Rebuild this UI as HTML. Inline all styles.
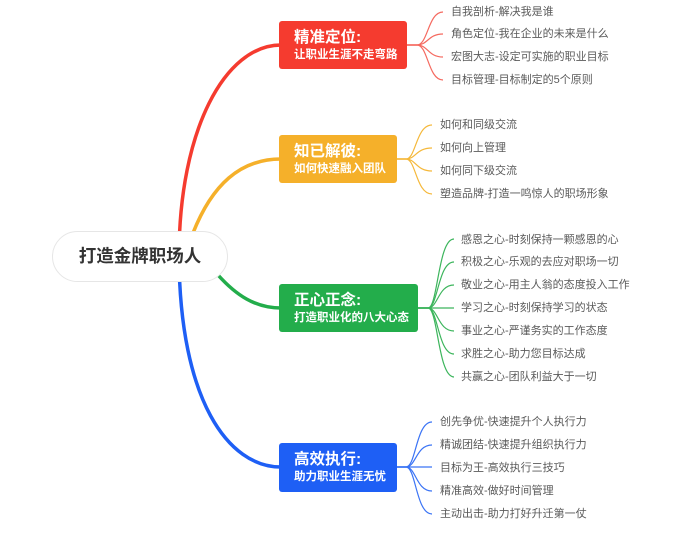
<!DOCTYPE html>
<html><head><meta charset="utf-8"><style>
body{margin:0;width:700px;height:535px;background:#fff;position:relative;overflow:hidden;font-family:"Liberation Sans","Noto Sans CJK SC",sans-serif}
.box{position:absolute;left:279px;border-radius:3px;color:#fff;font-weight:bold;box-sizing:border-box;padding:7px 0 0 15px}
.box .t{font-size:15.5px;line-height:19px}
.box .s{font-size:11.5px;line-height:16px}
.leaf{position:absolute;font-size:11px;color:#5a5a5a;line-height:14px;white-space:nowrap}
.c{position:absolute;left:52px;top:231px;width:176px;height:51px;border:1px solid #e6e6e6;border-radius:26px;background:#fff;box-sizing:border-box;text-align:center;line-height:49px;font-size:17.5px;font-weight:bold;color:#333}
</style></head><body>
<svg width="700" height="535" style="position:absolute;left:0;top:0" fill="none">
<path d="M179,257 C179,130 225,45 281,45" stroke="#f53b2f" stroke-width="3.5"/>
<path d="M193,233 C212,185 240,159 281,159" stroke="#f5b02a" stroke-width="3.5"/>
<path d="M218,275 C236,295 255,308 281,308" stroke="#23ad4b" stroke-width="3.5"/>
<path d="M179,257 C180,400 228,467 281,467" stroke="#1e5ff5" stroke-width="3.5"/>
<g stroke="#f56a60" stroke-width="1.2">
<path d="M407,45 H417 C428,45 428,12 443,12"/><path d="M407,45 H417 C428,45 428,34 443,34"/><path d="M407,45 H417 C428,45 428,57 443,57"/><path d="M407,45 H417 C428,45 428,80 443,80"/>
</g>
<g stroke="#f5b83a" stroke-width="1.2">
<path d="M397,159 H406 C416,159 416,125 432,125"/><path d="M397,159 H406 C416,159 416,148 432,148"/><path d="M397,159 H406 C416,159 416,171 432,171"/><path d="M397,159 H406 C416,159 416,194 432,194"/>
</g>
<g stroke="#3cb55c" stroke-width="1.2">
<path d="M418,308 H428 C438,308 438,239 454,239"/><path d="M418,308 H428 C438,308 438,262 454,262"/><path d="M418,308 H428 C438,308 438,285 454,285"/><path d="M418,308 H454"/><path d="M418,308 H428 C438,308 438,331 454,331"/><path d="M418,308 H428 C438,308 438,354 454,354"/><path d="M418,308 H428 C438,308 438,377 454,377"/>
</g>
<g stroke="#3b74f5" stroke-width="1.2">
<path d="M397,467 H406 C416,467 416,422 432,422"/><path d="M397,467 H406 C416,467 416,445 432,445"/><path d="M397,467 H432"/><path d="M397,467 H406 C416,467 416,491 432,491"/><path d="M397,467 H406 C416,467 416,514 432,514"/>
</g>
</svg>
<div class="c">打造金牌职场人</div>
<div class="box" style="top:21px;width:128px;height:48px;background:#f53b2f"><div class="t">精准定位:</div><div class="s">让职业生涯不走弯路</div></div>
<div class="box" style="top:135px;width:118px;height:48px;background:#f5b02a"><div class="t">知已解彼:</div><div class="s">如何快速融入团队</div></div>
<div class="box" style="top:284px;width:139px;height:48px;background:#23ad4b"><div class="t">正心正念:</div><div class="s">打造职业化的八大心态</div></div>
<div class="box" style="top:443px;width:118px;height:49px;background:#1e5ff5"><div class="t">高效执行:</div><div class="s">助力职业生涯无忧</div></div>
<div class="leaf" style="left:451px;top:5px">自我剖析-解决我是谁</div>
<div class="leaf" style="left:451px;top:27px">角色定位-我在企业的未来是什么</div>
<div class="leaf" style="left:451px;top:50px">宏图大志-设定可实施的职业目标</div>
<div class="leaf" style="left:451px;top:73px">目标管理-目标制定的5个原则</div>
<div class="leaf" style="left:440px;top:118px">如何和同级交流</div>
<div class="leaf" style="left:440px;top:141px">如何向上管理</div>
<div class="leaf" style="left:440px;top:164px">如何同下级交流</div>
<div class="leaf" style="left:440px;top:187px">塑造品牌-打造一鸣惊人的职场形象</div>
<div class="leaf" style="left:461px;top:233px">感恩之心-时刻保持一颗感恩的心</div>
<div class="leaf" style="left:461px;top:255px">积极之心-乐观的去应对职场一切</div>
<div class="leaf" style="left:461px;top:278px">敬业之心-用主人翁的态度投入工作</div>
<div class="leaf" style="left:461px;top:301px">学习之心-时刻保持学习的状态</div>
<div class="leaf" style="left:461px;top:324px">事业之心-严谨务实的工作态度</div>
<div class="leaf" style="left:461px;top:347px">求胜之心-助力您目标达成</div>
<div class="leaf" style="left:461px;top:370px">共赢之心-团队利益大于一切</div>
<div class="leaf" style="left:440px;top:415px">创先争优-快速提升个人执行力</div>
<div class="leaf" style="left:440px;top:438px">精诚团结-快速提升组织执行力</div>
<div class="leaf" style="left:440px;top:461px">目标为王-高效执行三技巧</div>
<div class="leaf" style="left:440px;top:484px">精准高效-做好时间管理</div>
<div class="leaf" style="left:440px;top:507px">主动出击-助力打好升迁第一仗</div>
</body></html>
